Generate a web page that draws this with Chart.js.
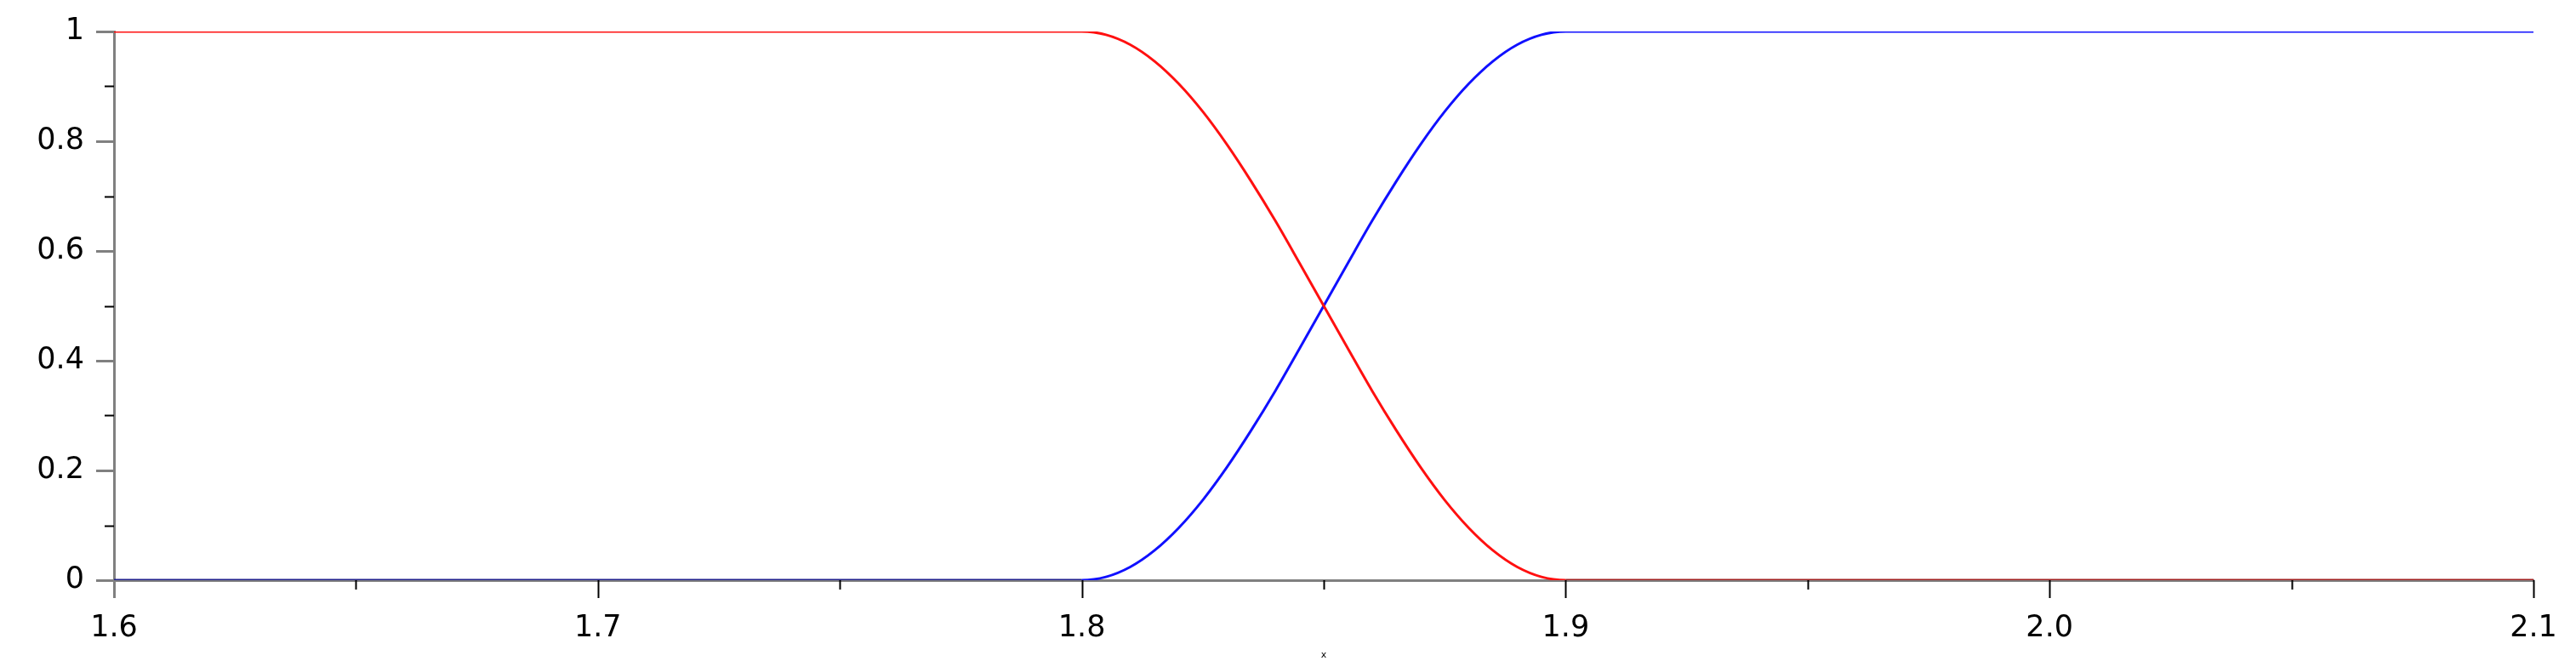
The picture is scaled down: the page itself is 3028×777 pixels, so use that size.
<!DOCTYPE html>
<html>
<head>
<meta charset="utf-8">
<script src="https://cdn.jsdelivr.net/npm/chart.js@4/dist/chart.umd.min.js"></script>
<style>
  body { margin: 0; background: #fff; }
  #chart { display: block; }
</style>
</head>
<body>
<canvas id="chart" width="3028" height="777"></canvas>
<script>
// values
const xValues = [1.6, 1.8, 1.805, 1.81, 1.815, 1.82, 1.825, 1.83, 1.835, 1.84, 1.845, 1.85,
  1.855, 1.86, 1.865, 1.87, 1.875, 1.88, 1.885, 1.89, 1.895, 1.9, 2.1];
const redValues = [1, 1, 0.994, 0.976, 0.946, 0.905, 0.854, 0.794, 0.727, 0.655, 0.578, 0.5,
  0.422, 0.345, 0.273, 0.206, 0.146, 0.095, 0.054, 0.024, 0.006, 0, 0];
const blueValues = [0, 0, 0.006, 0.024, 0.054, 0.095, 0.146, 0.206, 0.273, 0.345, 0.422, 0.5,
  0.578, 0.655, 0.727, 0.794, 0.854, 0.905, 0.946, 0.976, 0.994, 1, 1];
const xTickStep = 0.05;
const yTickStep = 0.1;

const toPoints = (ys) => xValues.map((x, i) => ({ x: x, y: ys[i] }));

// darker where the line sits on the x axis
const onAxis = (color, dark) => (ctx) =>
  ctx.p0.parsed.y === 0 && ctx.p1.parsed.y === 0 ? dark : color;

// major/minor tick marks
const tickMarks = {
  id: "tickMarks",
  afterDraw(chart) {
    const ctx = chart.ctx;
    const xs = chart.scales.x;
    const ys = chart.scales.y;
    ctx.save();
    xs.ticks.forEach((t) => {
      const px = Math.round(xs.getPixelForValue(t.value)) + 0.5;
      const major = Math.round(t.value * 20) % 2 === 0;
      ctx.strokeStyle = t.value === xs.min ? "#808080" : "#000";
      ctx.lineWidth = t.value === xs.min ? 3 : 2;
      ctx.beginPath();
      ctx.moveTo(px, xs.top);
      ctx.lineTo(px, xs.top + (major ? 21 : 11));
      ctx.stroke();
    });
    ys.ticks.forEach((t) => {
      const py = Math.round(ys.getPixelForValue(t.value)) + 0.5;
      const major = Math.round(t.value * 10) % 2 === 0;
      ctx.strokeStyle = major ? "#808080" : "#000";
      ctx.lineWidth = major ? 3 : 2;
      ctx.beginPath();
      ctx.moveTo(ys.right, py);
      ctx.lineTo(ys.right - (major ? 21 : 11), py);
      ctx.stroke();
    });
    ctx.restore();
  },
};

const font = { family: "'DejaVu Sans', Verdana, sans-serif", size: 35 };

new Chart(document.getElementById("chart"), {
  type: "line",
  data: {
    datasets: [
      {
        data: toPoints(redValues),
        borderColor: "#ff1010",
        borderWidth: 3,
        pointRadius: 0,
        cubicInterpolationMode: "monotone",
        segment: { borderColor: onAxis("#ff1010", "#a02020") },
      },
      {
        data: toPoints(blueValues),
        borderColor: "#1010ff",
        borderWidth: 3,
        pointRadius: 0,
        cubicInterpolationMode: "monotone",
        segment: { borderColor: onAxis("#1010ff", "#20208c") },
      },
    ],
  },
  options: {
    responsive: false,
    animation: false,
    layout: { padding: { top: 37, right: 50, left: 0, bottom: 0 } },
    plugins: { legend: { display: false }, tooltip: { enabled: false } },
    scales: {
      x: {
        type: "linear",
        min: 1.6,
        max: 2.1,
        afterFit: (s) => {
          s.height = 95;
          s.paddingLeft = 0;
          s.paddingRight = 0;
        },
        grid: { drawOnChartArea: false, drawTicks: false },
        border: { color: "#808080", width: 3 },
        title: {
          display: true,
          text: "x",
          color: "#000",
          font: { family: "'DejaVu Sans', sans-serif", size: 11 },
          padding: { top: 0, bottom: 0 },
        },
        ticks: {
          stepSize: xTickStep,
          autoSkip: false,
          maxRotation: 0,
          color: "#000",
          font: font,
          padding: 36,
          callback: (v) => (Math.round(v * 20) % 2 === 0 ? Number(v).toFixed(1) : ""),
        },
      },
      y: {
        min: 0,
        max: 1,
        afterFit: (s) => {
          s.width = 134;
          s.paddingTop = 0;
          s.paddingBottom = 0;
        },
        grid: { drawOnChartArea: false, drawTicks: false },
        border: { color: "#808080", width: 3 },
        ticks: {
          stepSize: yTickStep,
          autoSkip: false,
          color: "#000",
          font: font,
          padding: 35,
          callback: (v) => (Math.round(v * 10) % 2 === 0 ? String(Math.round(v * 10) / 10) : ""),
        },
      },
    },
  },
  plugins: [tickMarks],
});
</script>
</body>
</html>
